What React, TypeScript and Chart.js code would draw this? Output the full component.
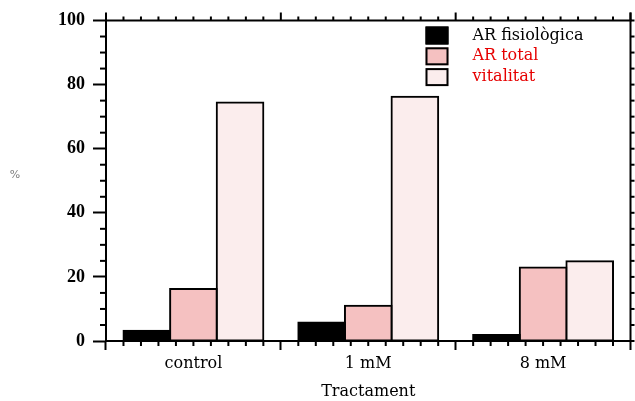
import React, { useEffect, useRef } from "react";
import { Chart, registerables } from "chart.js";

Chart.register(...registerables);

const categories = ["control", "1 mM", "8 mM"];
const seriesNames = ["AR fisiològica", "AR total", "vitalitat"];
const arFisiologica = [3.2, 5.8, 1.9];
const arTotal = [16.2, 11.0, 22.9];
const vitalitat = [74.4, 76.2, 24.9];
const yTickValues = [0, 20, 40, 60, 80, 100];
const xTitle = "Tractament";
const yTitle = "%";

const barColors = ["#000000", "#f5c1c1", "#fbeded"];
const legendTextColors = ["#000000", "#e60000", "#e60000"];

const serif = "'DejaVu Serif', serif";

const decorPlugin = {
  id: "decor",
  afterDraw(chart: any) {
    const { ctx, chartArea, scales } = chart;
    const { left, right, top, bottom } = chartArea;
    const x = scales.x;
    const y = scales.y;
    ctx.save();
    ctx.strokeStyle = "#000";
    ctx.lineWidth = 2;
    const line = (x1: number, y1: number, x2: number, y2: number) => {
      ctx.beginPath();
      ctx.moveTo(x1, y1);
      ctx.lineTo(x2, y2);
      ctx.stroke();
    };
    // frame top and right
    line(left - 1, top, right + 1, top);
    line(right, top - 8, right, bottom);
    // y minor ticks (left) and all ticks (right)
    for (let v = 0; v <= 100; v += 5) {
      const py = y.getPixelForValue(v);
      const major = yTickValues.includes(v);
      if (!major) line(left - 6, py, left, py);
      line(right, py, right + 4, py);
    }
    // x ticks
    const w = x.getPixelForValue(1) - x.getPixelForValue(0);
    for (let i = 0; i < categories.length; i++) {
      const b0 = x.getPixelForValue(i) - w / 2;
      for (let k = 1; k < 10; k++) {
        const px = b0 + (k * w) / 10;
        line(px, bottom, px, bottom + 5);
        line(px, top - 4, px, top);
      }
    }
    for (let i = 0; i <= categories.length; i++) {
      const px = x.getPixelForValue(0) - w / 2 + i * w;
      line(px, top - 8, px, top);
    }
    // y title
    ctx.fillStyle = "#808080";
    ctx.font = "11px 'DejaVu Sans', sans-serif";
    ctx.textAlign = "center";
    ctx.textBaseline = "middle";
    ctx.fillText(yTitle, 15, 175);
    // legend
    const lx = right - 205;
    let ly = top + 6;
    ctx.font = "16px " + serif;
    ctx.textAlign = "left";
    chart.data.datasets.forEach((ds: any, i: number) => {
      ctx.fillStyle = ds.backgroundColor;
      ctx.fillRect(lx, ly, 23, 18);
      ctx.lineWidth = 2;
      ctx.strokeRect(lx + 1, ly + 1, 21, 16);
      ctx.fillStyle = legendTextColors[i];
      ctx.fillText(ds.label, lx + 47, ly + 9);
      ly += 20.8;
    });
    ctx.restore();
  },
};

export default function App() {
  const ref = useRef<HTMLCanvasElement>(null);
  useEffect(() => {
    if (!ref.current) return;
    const data = [arFisiologica, arTotal, vitalitat];
    const chart = new Chart(ref.current, {
      type: "bar",
      data: {
        labels: categories,
        datasets: seriesNames.map((name, i) => ({
          label: name,
          data: data[i],
          backgroundColor: barColors[i],
          borderColor: "#000",
          borderWidth: 2,
          borderSkipped: false,
          inflateAmount: 1,
          barPercentage: 1,
          categoryPercentage: 0.8,
        })),
      },
      options: {
        animation: false,
        responsive: false,
        maintainAspectRatio: false,
        layout: { padding: { top: 20.5, right: 4.5, left: 0, bottom: 0 } },
        plugins: { legend: { display: false }, tooltip: { enabled: false } },
        scales: {
          x: {
            afterFit: (s: any) => {
              s.height = 60;
            },
            grid: {
              offset: true,
              drawOnChartArea: false,
              drawTicks: true,
              tickLength: 9,
              tickWidth: 2,
              tickColor: "#000",
            },
            border: { display: true, color: "#000", width: 2 },
            ticks: {
              color: "#000",
              font: { family: serif, size: 16 },
              padding: 4,
              maxRotation: 0,
            },
            title: {
              display: true,
              text: xTitle,
              color: "#000",
              font: { family: serif, size: 16 },
              padding: { top: 8, bottom: 0 },
            },
          },
          y: {
            min: 0,
            max: 100,
            afterFit: (s: any) => {
              s.width = 106;
            },
            afterBuildTicks: (s: any) => {
              s.ticks = yTickValues.map((v) => ({ value: v }));
            },
            grid: {
              drawOnChartArea: false,
              drawTicks: true,
              tickLength: 13,
              tickWidth: 2,
              tickColor: "#000",
            },
            border: { display: true, color: "#000", width: 2 },
            ticks: {
              color: "#000",
              font: { family: "'Liberation Serif', serif", size: 18, weight: "bold" },
              padding: 8,
            },
          },
        },
      },
      plugins: [decorPlugin],
    } as any);
    return () => chart.destroy();
  }, []);
  return (
    <div style={{ position: "fixed", left: 0, top: 0, width: 635, height: 401, background: "#fff" }}>
      <canvas ref={ref} width={635} height={401} style={{ width: 635, height: 401 }} />
    </div>
  );
}
